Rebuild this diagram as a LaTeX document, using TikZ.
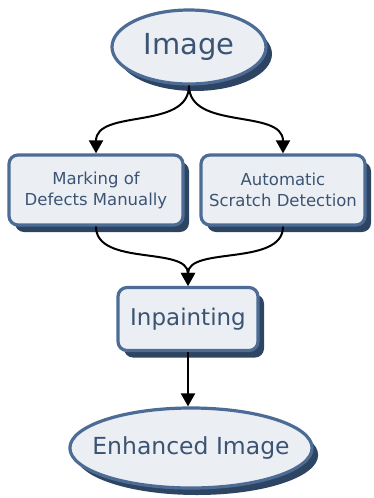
\documentclass[tikz,border=0pt]{standalone}
\usepackage{fontspec}
\setmainfont{DejaVu Sans}
\usetikzlibrary{shapes.geometric}
\usetikzlibrary{arrows.meta}
\usetikzlibrary{shadows}

\definecolor{boxfill}{HTML}{EBEFF4}
\definecolor{boxline}{HTML}{4C6C96}
\definecolor{boxshade}{HTML}{2D4462}
\definecolor{boxtext}{HTML}{3C5474}

\tikzset{
  block/.style={draw=boxline, line width=3.2pt, fill=boxfill, text=boxtext,
    drop shadow={shadow xshift=6pt, shadow yshift=-7pt, fill=boxshade, opacity=1},
    align=center, inner sep=0pt},
  stepbox/.style={block, rectangle, rounded corners=9pt},
  endbox/.style={block, ellipse},
  flow/.style={line width=2pt, -{Triangle[width=14pt,length=13pt]}}
}

\begin{document}
\begin{tikzpicture}[x=1pt,y=-1pt]
  \useasboundingbox (0,0) rectangle (373,498);

  \node[endbox, minimum width=154pt, minimum height=74pt, font=\fontsize{29}{32}\selectfont] (img) at (189,47) {Image};

  \node[stepbox, minimum width=174pt, minimum height=70pt, font=\fontsize{16.5}{21}\selectfont] (mark) at (96,190) {Marking of\\Defects Manually};
  \node[stepbox, minimum width=164pt, minimum height=70pt, font=\fontsize{16.5}{21}\selectfont] (auto) at (283,190) {Automatic\\Scratch Detection};

  \node[stepbox, minimum width=140pt, minimum height=63pt, font=\fontsize{23}{26}\selectfont] (inp) at (188,319) {Inpainting};

  \node[endbox, inner xsep=-13pt, minimum width=242pt, minimum height=80pt, font=\fontsize{23.5}{27}\selectfont] (enh) at (191,448) {Enhanced Image};

  \draw[flow] (img.south) .. controls +(0,45) and +(0,-45) .. (mark.north);
  \draw[flow] (img.south) .. controls +(0,45) and +(0,-45) .. (auto.north);
  \draw[flow] (mark.south) .. controls +(0,40) and +(0,-40) .. (inp.north);
  \draw[flow] (auto.south) .. controls +(0,40) and +(0,-40) .. (inp.north);
  \draw[flow] (inp.south) -- (inp.south |- enh.north);
\end{tikzpicture}
\end{document}
